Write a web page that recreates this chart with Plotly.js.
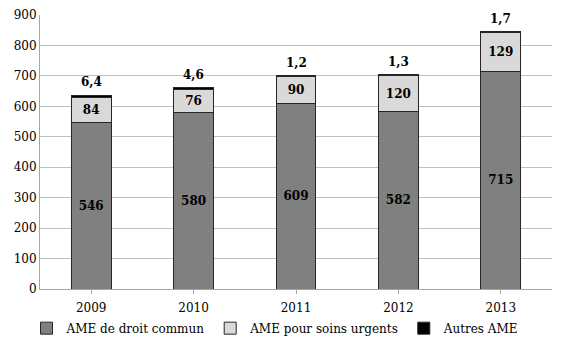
<!DOCTYPE html>
<html><head><meta charset="utf-8">
<script src="https://cdn.plot.ly/plotly-3.0.1.min.js"></script>
<style>body{margin:0}#c{width:567px;height:356px}</style>
</head><body><div id="c"></div>
<script>
const years = ['2009','2010','2011','2012','2013'];
const droitCommun = [546, 580, 609, 582, 715];
const soinsUrgents = [84, 76, 90, 120, 129];
const autres = [6.4, 4.6, 1.2, 1.3, 1.7];
const autresLabels = ['6,4','4,6','1,2','1,3','1,7'];

const font = "'DejaVu Serif', 'Liberation Serif', serif";
const lineStyle = {color: '#262626', width: 1};
const traces = [
  {type:'bar', name:'AME de droit commun', x:years, y:droitCommun,
   marker:{color:'#808080', line:lineStyle}, text:droitCommun.map(String),
   textposition:'inside', insidetextanchor:'middle',
   textfont:{family:font, size:12, color:'#000', weight:'bold'}, hoverinfo:'none'},
  {type:'bar', name:'AME pour soins urgents', x:years, y:soinsUrgents,
   marker:{color:'#d9d9d9', line:lineStyle}, text:soinsUrgents.map(String),
   textposition:'inside', insidetextanchor:'middle',
   textfont:{family:font, size:12, color:'#000', weight:'bold'}, hoverinfo:'none'},
  {type:'bar', name:'Autres AME', x:years, y:autres,
   marker:{color:'#000000', line:lineStyle}, textposition:'none', hoverinfo:'none'}
];
const totals = years.map((y,i)=>droitCommun[i]+soinsUrgents[i]+autres[i]);
const annotations = years.map((y,i)=>({
  x:y, y:totals[i], text:'<b>'+autresLabels[i]+'</b>', showarrow:false,
  yanchor:'bottom', yshift:4, font:{family:font, size:12, color:'#000'}
}));
const layout = {
  width:567, height:356,
  margin:{l:40, r:15, t:15, b:67},
  barmode:'stack', bargap:0.61,
  paper_bgcolor:'#fff', plot_bgcolor:'#fff',
  font:{family:font, size:12, color:'#000'},
  xaxis:{showline:true, linecolor:'#a6a6a6', ticks:'outside', tickson:'boundaries',
         ticklen:4, tickcolor:'#a6a6a6', showgrid:false, tickfont:{size:12},
         ticklabelstandoff:4},
  yaxis:{range:[0,900], dtick:100, showline:true, linecolor:'#a6a6a6',
         gridcolor:'#bfbfbf', gridwidth:1, ticks:'', zeroline:false, tickfont:{size:12}},
  legend:{orientation:'h', x:0.46, xanchor:'center', y:-0.09, yanchor:'top',
          font:{size:12}, traceorder:'normal', itemwidth:30},
  annotations:annotations, showlegend:true
};
Plotly.newPlot('c', traces, layout, {displayModeBar:false, staticPlot:true});
</script></body></html>
